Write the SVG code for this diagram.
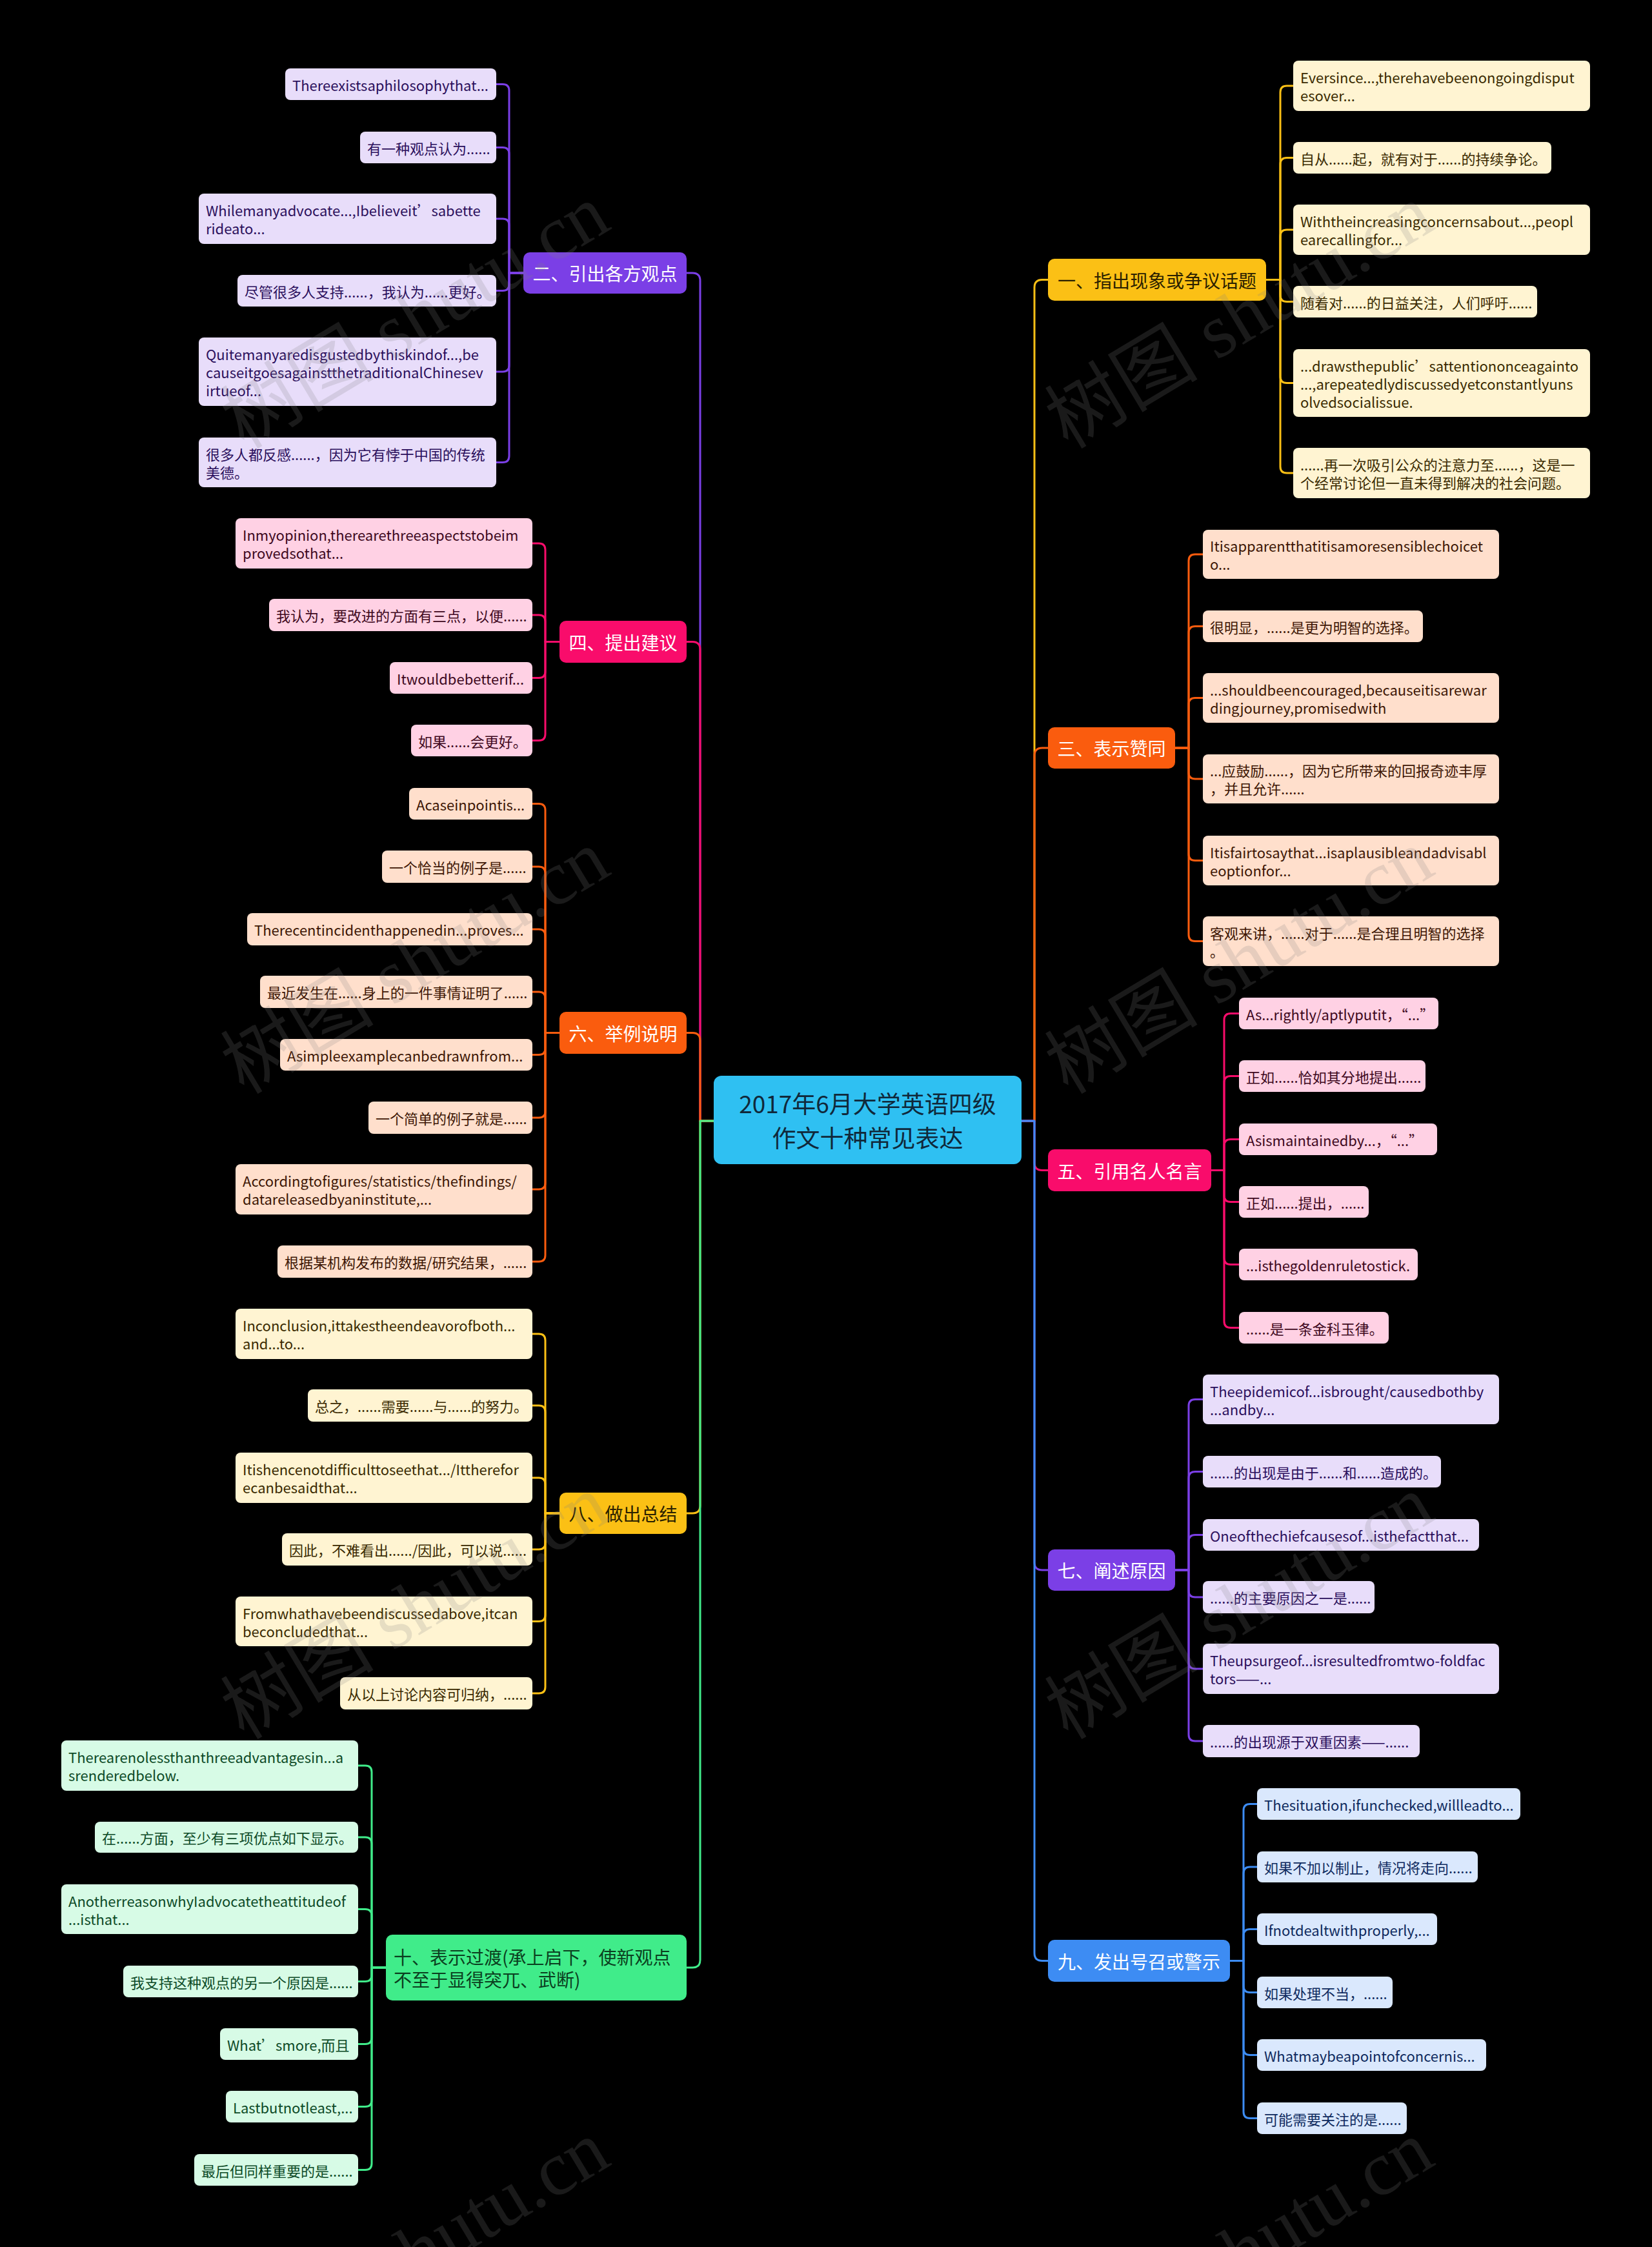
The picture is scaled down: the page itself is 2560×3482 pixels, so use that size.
<svg xmlns="http://www.w3.org/2000/svg" width="2560" height="3482" viewBox="0 0 2560 3482">
<style>
text{font-family:"Noto Sans CJK SC","Noto Sans",sans-serif;}
text,tspan{dominant-baseline:central;}
.lf{font-size:22px;}
.br{font-size:28px;text-anchor:middle;}
.rt{font-size:37px;text-anchor:middle;fill:#10283A;}
.lk{fill:none;stroke-width:3;stroke-linecap:round;stroke-linejoin:round;}
.spu{stroke:#7B3FE6}.spk{stroke:#F90C6B}.sor{stroke:#FA5C0E}.sye{stroke:#FBC015}.sgr{stroke:#40EC8A}.sbl{stroke:#3D8CF3}
.fpu{fill:#E8DDFA}.fpk{fill:#FFD1E4}.for{fill:#FFDFCC}.fye{fill:#FFF4D2}.fgr{fill:#D7FBE6}.fbl{fill:#DAE8FD}
.tpu{fill:#2B0F5C}.tpk{fill:#3E0820}.tor{fill:#3D1604}.tye{fill:#3A2A00}.tgr{fill:#0C4A26}.tbl{fill:#0E2A5E}
.bpu{fill:#7B3FE6}.bpk{fill:#F90C6B}.bor{fill:#FA5C0E}.bye{fill:#FBC015}.bgr{fill:#40EC8A}.bbl{fill:#3D8CF3}
.w{fill:#FFFFFF}.dk{fill:#2A2000}.dg{fill:#0B3F20}
.wm{font-family:"Liberation Serif","Noto Sans CJK SC",serif;font-size:119px;fill:#808080;fill-opacity:0.2;dominant-baseline:auto;}
</style>
<rect x="0" y="0" width="2560" height="3482" fill="#000000"/>

<g id="connectors">
<g class="lk spu">
<path d="M811 423H789V140.5Q789 130.5 779 130.5H769"/>
<path d="M811 423H789V238.5Q789 228.5 779 228.5H769"/>
<path d="M811 423H789V349Q789 339 779 339H769"/>
<path d="M811 423H789V440.5Q789 450.5 779 450.5H769"/>
<path d="M811 423H789V566Q789 576 779 576H769"/>
<path d="M811 423H789V706.5Q789 716.5 779 716.5H769"/>
</g>
<g class="lk spk">
<path d="M867 994.5H845V852Q845 842 835 842H825"/>
<path d="M867 994.5H845V963Q845 953 835 953H825"/>
<path d="M867 994.5H845V1040.5Q845 1050.5 835 1050.5H825"/>
<path d="M867 994.5H845V1137.5Q845 1147.5 835 1147.5H825"/>
</g>
<g class="lk sor">
<path d="M867 1600.5H845V1255.5Q845 1245.5 835 1245.5H825"/>
<path d="M867 1600.5H845V1353Q845 1343 835 1343H825"/>
<path d="M867 1600.5H845V1450Q845 1440 835 1440H825"/>
<path d="M867 1600.5H845V1547Q845 1537 835 1537H825"/>
<path d="M867 1600.5H845V1624.5Q845 1634.5 835 1634.5H825"/>
<path d="M867 1600.5H845V1722Q845 1732 835 1732H825"/>
<path d="M867 1600.5H845V1833Q845 1843 835 1843H825"/>
<path d="M867 1600.5H845V1945Q845 1955 835 1955H825"/>
</g>
<g class="lk sye">
<path d="M867 2345H845V2077Q845 2067 835 2067H825"/>
<path d="M867 2345H845V2188Q845 2178 835 2178H825"/>
<path d="M867 2345H845V2300Q845 2290 835 2290H825"/>
<path d="M867 2345H845V2391Q845 2401 835 2401H825"/>
<path d="M867 2345H845V2502.5Q845 2512.5 835 2512.5H825"/>
<path d="M867 2345H845V2614Q845 2624 835 2624H825"/>
</g>
<g class="lk sgr">
<path d="M598 3049H576V2746Q576 2736 566 2736H555"/>
<path d="M598 3049H576V2857Q576 2847 566 2847H555"/>
<path d="M598 3049H576V2968.5Q576 2958.5 566 2958.5H555"/>
<path d="M598 3049H576V3060.5Q576 3070.5 566 3070.5H555"/>
<path d="M598 3049H576V3157.5Q576 3167.5 566 3167.5H555"/>
<path d="M598 3049H576V3254.5Q576 3264.5 566 3264.5H555"/>
<path d="M598 3049H576V3352.5Q576 3362.5 566 3362.5H555"/>
</g>
<g class="lk sye">
<path d="M1962 433.5H1984V143Q1984 133 1994 133H2004"/>
<path d="M1962 433.5H1984V254.5Q1984 244.5 1994 244.5H2004"/>
<path d="M1962 433.5H1984V366Q1984 356 1994 356H2004"/>
<path d="M1962 433.5H1984V457.5Q1984 467.5 1994 467.5H2004"/>
<path d="M1962 433.5H1984V583.5Q1984 593.5 1994 593.5H2004"/>
<path d="M1962 433.5H1984V723Q1984 733 1994 733H2004"/>
</g>
<g class="lk sor">
<path d="M1821 1159H1842V869Q1842 859 1852 859H1864"/>
<path d="M1821 1159H1842V980.5Q1842 970.5 1852 970.5H1864"/>
<path d="M1821 1159H1842V1091.5Q1842 1081.5 1852 1081.5H1864"/>
<path d="M1821 1159H1842V1197Q1842 1207 1852 1207H1864"/>
<path d="M1821 1159H1842V1323.5Q1842 1333.5 1852 1333.5H1864"/>
<path d="M1821 1159H1842V1448.5Q1842 1458.5 1852 1458.5H1864"/>
</g>
<g class="lk spk">
<path d="M1877 1813.5H1897V1580.5Q1897 1570.5 1907 1570.5H1920"/>
<path d="M1877 1813.5H1897V1677.5Q1897 1667.5 1907 1667.5H1920"/>
<path d="M1877 1813.5H1897V1775.5Q1897 1765.5 1907 1765.5H1920"/>
<path d="M1877 1813.5H1897V1852.5Q1897 1862.5 1907 1862.5H1920"/>
<path d="M1877 1813.5H1897V1949.5Q1897 1959.5 1907 1959.5H1920"/>
<path d="M1877 1813.5H1897V2047.5Q1897 2057.5 1907 2057.5H1920"/>
</g>
<g class="lk spu">
<path d="M1821 2433H1842V2178.5Q1842 2168.5 1852 2168.5H1864"/>
<path d="M1821 2433H1842V2290.5Q1842 2280.5 1852 2280.5H1864"/>
<path d="M1821 2433H1842V2388.5Q1842 2378.5 1852 2378.5H1864"/>
<path d="M1821 2433H1842V2465Q1842 2475 1852 2475H1864"/>
<path d="M1821 2433H1842V2576Q1842 2586 1852 2586H1864"/>
<path d="M1821 2433H1842V2688Q1842 2698 1852 2698H1864"/>
</g>
<g class="lk sbl">
<path d="M1906 3038.5H1927V2805.5Q1927 2795.5 1937 2795.5H1948"/>
<path d="M1906 3038.5H1927V2903Q1927 2893 1937 2893H1948"/>
<path d="M1906 3038.5H1927V2999.5Q1927 2989.5 1937 2989.5H1948"/>
<path d="M1906 3038.5H1927V3077.5Q1927 3087.5 1937 3087.5H1948"/>
<path d="M1906 3038.5H1927V3174.5Q1927 3184.5 1937 3184.5H1948"/>
<path d="M1906 3038.5H1927V3272.5Q1927 3282.5 1937 3282.5H1948"/>
</g>
<path class="lk spu" d="M1106 1737H1085V435Q1085 423 1073 423H1064"/>
<path class="lk spk" d="M1106 1737H1085V1006.5Q1085 994.5 1073 994.5H1064"/>
<path class="lk sor" d="M1106 1737H1085V1612.5Q1085 1600.5 1073 1600.5H1064"/>
<path class="lk sye" d="M1106 1737H1085V2333Q1085 2345 1073 2345H1064"/>
<path class="lk sgr" d="M1106 1737H1085V3037Q1085 3049 1073 3049H1064"/>
<path class="lk sye" d="M1583 1737H1603V445.5Q1603 433.5 1615 433.5H1624"/>
<path class="lk sor" d="M1583 1737H1603V1171Q1603 1159 1615 1159H1624"/>
<path class="lk spk" d="M1583 1737H1603V1801.5Q1603 1813.5 1615 1813.5H1624"/>
<path class="lk spu" d="M1583 1737H1603V2421Q1603 2433 1615 2433H1624"/>
<path class="lk sbl" d="M1583 1737H1603V3026.5Q1603 3038.5 1615 3038.5H1624"/>
</g>

<g id="root"><rect x="1106" y="1667" width="477" height="137" rx="12" fill="#2FC0F2"/><text class="rt" x="1344.5"><tspan x="1344.5" y="1709">2017年6月大学英语四级</tspan><tspan x="1344.5" y="1762">作文十种常见表达</tspan></text></g>

<g id="b1"><rect class="bye" x="1624" y="401" width="338" height="65" rx="10"/><text class="br dk" x="1793" y="433.5">一、指出现象或争议话题</text></g>
<g id="b2"><rect class="bpu" x="811" y="391" width="253" height="64" rx="10"/><text class="br w" x="937.5" y="423">二、引出各方观点</text></g>
<g id="b3"><rect class="bor" x="1624" y="1127" width="197" height="64" rx="10"/><text class="br w" x="1722.5" y="1159">三、表示赞同</text></g>
<g id="b4"><rect class="bpk" x="867" y="962" width="197" height="65" rx="10"/><text class="br w" x="965.5" y="994.5">四、提出建议</text></g>
<g id="b5"><rect class="bpk" x="1624" y="1781" width="253" height="65" rx="10"/><text class="br w" x="1750.5" y="1813.5">五、引用名人名言</text></g>
<g id="b6"><rect class="bor" x="867" y="1568" width="197" height="65" rx="10"/><text class="br w" x="965.5" y="1600.5">六、举例说明</text></g>
<g id="b7"><rect class="bpu" x="1624" y="2401" width="197" height="64" rx="10"/><text class="br w" x="1722.5" y="2433">七、阐述原因</text></g>
<g id="b8"><rect class="bye" x="867" y="2313" width="197" height="64" rx="10"/><text class="br dk" x="965.5" y="2345">八、做出总结</text></g>
<g id="b9"><rect class="bbl" x="1624" y="3006" width="282" height="65" rx="10"/><text class="br w" x="1765" y="3038.5">九、发出号召或警示</text></g>
<g id="b10"><rect class="bgr" x="598" y="2998" width="466" height="102" rx="10"/><text class="dg" style="font-size:28px"><tspan x="610" y="3031.5">十、表示过渡(承上启下，使新观点</tspan><tspan x="610" y="3066.5">不至于显得突兀、武断)</tspan></text></g>

<g id="n2-1"><rect class="fpu" x="442" y="106" width="327" height="49" rx="8"/><text class="lf tpu" x="453" y="130.5">Thereexistsaphilosophythat...</text></g>
<g id="n2-2"><rect class="fpu" x="558" y="204" width="211" height="49" rx="8"/><text class="lf tpu" x="569" y="228.5">有一种观点认为......</text></g>
<g id="n2-3"><rect class="fpu" x="308" y="300" width="461" height="78" rx="8"/><text class="lf tpu"><tspan x="319" y="325">Whilemanyadvocate...,Ibelieveit’sabette</tspan><tspan x="319" y="353">rideato...</tspan></text></g>
<g id="n2-4"><rect class="fpu" x="368" y="426" width="401" height="49" rx="8"/><text class="lf tpu" x="379" y="450.5">尽管很多人支持......，我认为......更好。</text></g>
<g id="n2-5"><rect class="fpu" x="308" y="523" width="461" height="106" rx="8"/><text class="lf tpu"><tspan x="319" y="548">Quitemanyaredisgustedbythiskindof...,be</tspan><tspan x="319" y="576">causeitgoesagainstthetraditionalChinesev</tspan><tspan x="319" y="604">irtueof...</tspan></text></g>
<g id="n2-6"><rect class="fpu" x="308" y="678" width="461" height="77" rx="8"/><text class="lf tpu"><tspan x="319" y="702.5">很多人都反感......，因为它有悖于中国的传统</tspan><tspan x="319" y="730.5">美德。</tspan></text></g>

<g id="n4-1"><rect class="fpk" x="365" y="803" width="460" height="78" rx="8"/><text class="lf tpk"><tspan x="376" y="828">Inmyopinion,therearethreeaspectstobeim</tspan><tspan x="376" y="856">provedsothat...</tspan></text></g>
<g id="n4-2"><rect class="fpk" x="417" y="928" width="408" height="50" rx="8"/><text class="lf tpk" x="428" y="953">我认为，要改进的方面有三点，以便......</text></g>
<g id="n4-3"><rect class="fpk" x="604" y="1026" width="221" height="49" rx="8"/><text class="lf tpk" x="615" y="1050.5">Itwouldbebetterif...</text></g>
<g id="n4-4"><rect class="fpk" x="637" y="1123" width="188" height="49" rx="8"/><text class="lf tpk" x="648" y="1147.5">如果......会更好。</text></g>

<g id="n6-1"><rect class="for" x="634" y="1221" width="191" height="49" rx="8"/><text class="lf tor" x="645" y="1245.5">Acaseinpointis...</text></g>
<g id="n6-2"><rect class="for" x="592" y="1318" width="233" height="50" rx="8"/><text class="lf tor" x="603" y="1343">一个恰当的例子是......</text></g>
<g id="n6-3"><rect class="for" x="383" y="1415" width="442" height="50" rx="8"/><text class="lf tor" x="394" y="1440">Therecentincidenthappenedin...proves...</text></g>
<g id="n6-4"><rect class="for" x="403" y="1512" width="422" height="50" rx="8"/><text class="lf tor" x="414" y="1537">最近发生在......身上的一件事情证明了......</text></g>
<g id="n6-5"><rect class="for" x="434" y="1610" width="391" height="49" rx="8"/><text class="lf tor" x="445" y="1634.5">Asimpleexamplecanbedrawnfrom...</text></g>
<g id="n6-6"><rect class="for" x="571" y="1707" width="254" height="50" rx="8"/><text class="lf tor" x="582" y="1732">一个简单的例子就是......</text></g>
<g id="n6-7"><rect class="for" x="365" y="1804" width="460" height="78" rx="8"/><text class="lf tor"><tspan x="376" y="1829">Accordingtofigures/statistics/thefindings/</tspan><tspan x="376" y="1857">datareleasedbyaninstitute,...</tspan></text></g>
<g id="n6-8"><rect class="for" x="430" y="1930" width="395" height="50" rx="8"/><text class="lf tor" x="441" y="1955">根据某机构发布的数据/研究结果，......</text></g>

<g id="n8-1"><rect class="fye" x="365" y="2028" width="460" height="78" rx="8"/><text class="lf tye"><tspan x="376" y="2053">Inconclusion,ittakestheendeavorofboth...</tspan><tspan x="376" y="2081">and...to...</tspan></text></g>
<g id="n8-2"><rect class="fye" x="477" y="2153" width="348" height="50" rx="8"/><text class="lf tye" x="488" y="2178">总之，......需要......与......的努力。</text></g>
<g id="n8-3"><rect class="fye" x="365" y="2251" width="460" height="78" rx="8"/><text class="lf tye"><tspan x="376" y="2276">Itishencenotdifficulttoseethat.../Ittherefor</tspan><tspan x="376" y="2304">ecanbesaidthat...</tspan></text></g>
<g id="n8-4"><rect class="fye" x="437" y="2376" width="388" height="50" rx="8"/><text class="lf tye" x="448" y="2401">因此，不难看出....../因此，可以说......</text></g>
<g id="n8-5"><rect class="fye" x="365" y="2474" width="460" height="77" rx="8"/><text class="lf tye"><tspan x="376" y="2498.5">Fromwhathavebeendiscussedabove,itcan</tspan><tspan x="376" y="2526.5">beconcludedthat...</tspan></text></g>
<g id="n8-6"><rect class="fye" x="527" y="2599" width="298" height="50" rx="8"/><text class="lf tye" x="538" y="2624">从以上讨论内容可归纳，......</text></g>

<g id="n10-1"><rect class="fgr" x="95" y="2697" width="460" height="78" rx="8"/><text class="lf tgr"><tspan x="106" y="2722">Therearenolessthanthreeadvantagesin...a</tspan><tspan x="106" y="2750">srenderedbelow.</tspan></text></g>
<g id="n10-2"><rect class="fgr" x="147" y="2823" width="408" height="48" rx="8"/><text class="lf tgr" x="158" y="2847">在......方面，至少有三项优点如下显示。</text></g>
<g id="n10-3"><rect class="fgr" x="95" y="2920" width="460" height="77" rx="8"/><text class="lf tgr"><tspan x="106" y="2944.5">AnotherreasonwhyIadvocatetheattitudeof</tspan><tspan x="106" y="2972.5">...isthat...</tspan></text></g>
<g id="n10-4"><rect class="fgr" x="191" y="3046" width="364" height="49" rx="8"/><text class="lf tgr" x="202" y="3070.5">我支持这种观点的另一个原因是......</text></g>
<g id="n10-5"><rect class="fgr" x="341" y="3143" width="214" height="49" rx="8"/><text class="lf tgr" x="352" y="3167.5">What’smore,而且</text></g>
<g id="n10-6"><rect class="fgr" x="350" y="3240" width="205" height="49" rx="8"/><text class="lf tgr" x="361" y="3264.5">Lastbutnotleast,...</text></g>
<g id="n10-7"><rect class="fgr" x="301" y="3338" width="254" height="49" rx="8"/><text class="lf tgr" x="312" y="3362.5">最后但同样重要的是......</text></g>

<g id="n1-1"><rect class="fye" x="2004" y="94" width="460" height="78" rx="8"/><text class="lf tye"><tspan x="2015" y="119">Eversince...,therehavebeenongoingdisput</tspan><tspan x="2015" y="147">esover...</tspan></text></g>
<g id="n1-2"><rect class="fye" x="2004" y="220" width="400" height="49" rx="8"/><text class="lf tye" x="2015" y="244.5">自从......起，就有对于......的持续争论。</text></g>
<g id="n1-3"><rect class="fye" x="2004" y="317" width="460" height="78" rx="8"/><text class="lf tye"><tspan x="2015" y="342">Withtheincreasingconcernsabout...,peopl</tspan><tspan x="2015" y="370">earecallingfor...</tspan></text></g>
<g id="n1-4"><rect class="fye" x="2004" y="443" width="378" height="49" rx="8"/><text class="lf tye" x="2015" y="467.5">随着对......的日益关注，人们呼吁......</text></g>
<g id="n1-5"><rect class="fye" x="2004" y="541" width="460" height="105" rx="8"/><text class="lf tye"><tspan x="2015" y="565.5">...drawsthepublic’sattentiononceagainto</tspan><tspan x="2015" y="593.5">...,arepeatedlydiscussedyetconstantlyuns</tspan><tspan x="2015" y="621.5">olvedsocialissue.</tspan></text></g>
<g id="n1-6"><rect class="fye" x="2004" y="694" width="460" height="78" rx="8"/><text class="lf tye"><tspan x="2015" y="719">......再一次吸引公众的注意力至......，这是一</tspan><tspan x="2015" y="747">个经常讨论但一直未得到解决的社会问题。</tspan></text></g>

<g id="n3-1"><rect class="for" x="1864" y="821" width="459" height="76" rx="8"/><text class="lf tor"><tspan x="1875" y="845">Itisapparentthatitisamoresensiblechoicet</tspan><tspan x="1875" y="873">o...</tspan></text></g>
<g id="n3-2"><rect class="for" x="1864" y="946" width="341" height="49" rx="8"/><text class="lf tor" x="1875" y="970.5">很明显，......是更为明智的选择。</text></g>
<g id="n3-3"><rect class="for" x="1864" y="1043" width="459" height="77" rx="8"/><text class="lf tor"><tspan x="1875" y="1067.5">...shouldbeencouraged,becauseitisarewar</tspan><tspan x="1875" y="1095.5">dingjourney,promisedwith</tspan></text></g>
<g id="n3-4"><rect class="for" x="1864" y="1169" width="459" height="76" rx="8"/><text class="lf tor"><tspan x="1875" y="1193">...应鼓励......，因为它所带来的回报奇迹丰厚</tspan><tspan x="1875" y="1221">，并且允许......</tspan></text></g>
<g id="n3-5"><rect class="for" x="1864" y="1295" width="459" height="77" rx="8"/><text class="lf tor"><tspan x="1875" y="1319.5">Itisfairtosaythat...isaplausibleandadvisabl</tspan><tspan x="1875" y="1347.5">eoptionfor...</tspan></text></g>
<g id="n3-6"><rect class="for" x="1864" y="1420" width="459" height="77" rx="8"/><text class="lf tor"><tspan x="1875" y="1444.5">客观来讲，......对于......是合理且明智的选择</tspan><tspan x="1875" y="1472.5">。</tspan></text></g>

<g id="n5-1"><rect class="fpk" x="1920" y="1546" width="309" height="49" rx="8"/><text class="lf tpk" x="1931" y="1570.5">As...rightly/aptlyputit，“...”</text></g>
<g id="n5-2"><rect class="fpk" x="1920" y="1643" width="289" height="49" rx="8"/><text class="lf tpk" x="1931" y="1667.5">正如......恰如其分地提出......</text></g>
<g id="n5-3"><rect class="fpk" x="1920" y="1741" width="307" height="49" rx="8"/><text class="lf tpk" x="1931" y="1765.5">Asismaintainedby...，“...”</text></g>
<g id="n5-4"><rect class="fpk" x="1920" y="1838" width="201" height="49" rx="8"/><text class="lf tpk" x="1931" y="1862.5">正如......提出，......</text></g>
<g id="n5-5"><rect class="fpk" x="1920" y="1935" width="277" height="49" rx="8"/><text class="lf tpk" x="1931" y="1959.5">...isthegoldenruletostick.</text></g>
<g id="n5-6"><rect class="fpk" x="1920" y="2033" width="232" height="49" rx="8"/><text class="lf tpk" x="1931" y="2057.5">......是一条金科玉律。</text></g>

<g id="n7-1"><rect class="fpu" x="1864" y="2130" width="459" height="77" rx="8"/><text class="lf tpu"><tspan x="1875" y="2154.5">Theepidemicof...isbrought/causedbothby</tspan><tspan x="1875" y="2182.5">...andby...</tspan></text></g>
<g id="n7-2"><rect class="fpu" x="1864" y="2256" width="369" height="49" rx="8"/><text class="lf tpu" x="1875" y="2280.5">......的出现是由于......和......造成的。</text></g>
<g id="n7-3"><rect class="fpu" x="1864" y="2354" width="428" height="49" rx="8"/><text class="lf tpu" x="1875" y="2378.5">Oneofthechiefcausesof...isthefactthat...</text></g>
<g id="n7-4"><rect class="fpu" x="1864" y="2450" width="266" height="50" rx="8"/><text class="lf tpu" x="1875" y="2475">......的主要原因之一是......</text></g>
<g id="n7-5"><rect class="fpu" x="1864" y="2547" width="459" height="78" rx="8"/><text class="lf tpu"><tspan x="1875" y="2572">Theupsurgeof...isresultedfromtwo-foldfac</tspan><tspan x="1875" y="2600">tors——...</tspan></text></g>
<g id="n7-6"><rect class="fpu" x="1864" y="2673" width="336" height="50" rx="8"/><text class="lf tpu" x="1875" y="2698">......的出现源于双重因素——......</text></g>

<g id="n9-1"><rect class="fbl" x="1948" y="2771" width="408" height="49" rx="8"/><text class="lf tbl" x="1959" y="2795.5">Thesituation,ifunchecked,willleadto...</text></g>
<g id="n9-2"><rect class="fbl" x="1948" y="2869" width="342" height="48" rx="8"/><text class="lf tbl" x="1959" y="2893">如果不加以制止，情况将走向......</text></g>
<g id="n9-3"><rect class="fbl" x="1948" y="2965" width="279" height="49" rx="8"/><text class="lf tbl" x="1959" y="2989.5">Ifnotdealtwithproperly,...</text></g>
<g id="n9-4"><rect class="fbl" x="1948" y="3063" width="210" height="49" rx="8"/><text class="lf tbl" x="1959" y="3087.5">如果处理不当，......</text></g>
<g id="n9-5"><rect class="fbl" x="1948" y="3160" width="355" height="49" rx="8"/><text class="lf tbl" x="1959" y="3184.5">Whatmaybeapointofconcernis...</text></g>
<g id="n9-6"><rect class="fbl" x="1948" y="3258" width="232" height="49" rx="8"/><text class="lf tbl" x="1959" y="3282.5">可能需要关注的是......</text></g>

<g id="watermark">
<text class="wm" transform="translate(378 697) rotate(-31)">树图 shutu.cn</text>
<text class="wm" transform="translate(378 1697) rotate(-31)">树图 shutu.cn</text>
<text class="wm" transform="translate(378 2697) rotate(-31)">树图 shutu.cn</text>
<text class="wm" transform="translate(378 3697) rotate(-31)">树图 shutu.cn</text>
<text class="wm" transform="translate(1655 697) rotate(-31)">树图 shutu.cn</text>
<text class="wm" transform="translate(1655 1697) rotate(-31)">树图 shutu.cn</text>
<text class="wm" transform="translate(1655 2697) rotate(-31)">树图 shutu.cn</text>
<text class="wm" transform="translate(1655 3697) rotate(-31)">树图 shutu.cn</text>
</g>
</svg>
